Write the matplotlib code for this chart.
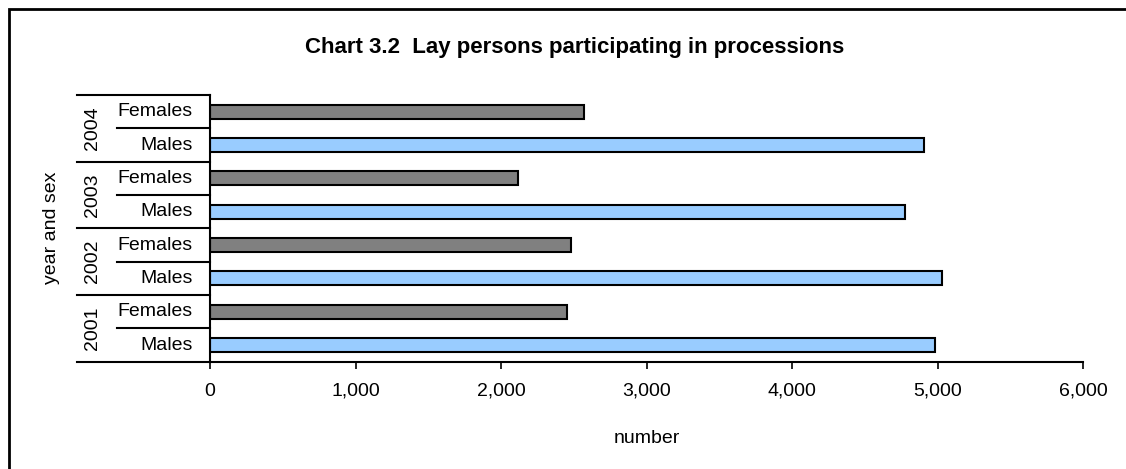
import numpy as np
import matplotlib.pyplot as plt
from matplotlib.patches import Rectangle
import matplotlib.transforms as mtransforms

plt.rcParams['font.family'] = ['Liberation Sans', 'DejaVu Sans']

# data (bottom to top)
years = ['2001', '2002', '2003', '2004']
sexes = ['Males', 'Females']
males = [4985, 5030, 4780, 4910]
females = [2455, 2480, 2120, 2570]

labels = []
values = []
colors = []
for i in range(len(years)):
    labels += sexes
    values += [males[i], females[i]]
    colors += ['#99CCFF', '#808080']

fig = plt.figure(figsize=(11.26, 4.69), dpi=100)
ax = fig.add_axes([210 / 1126, 1 - 361.7 / 469, 873 / 1126, 266.7 / 469])

ypos = np.arange(len(values))
ax.barh(ypos, values, height=0.42, color=colors, edgecolor='black', linewidth=1.5)

ax.set_xlim(0, 6000)
ax.set_ylim(-0.5, len(values) - 0.5)
ax.set_xticks(np.arange(0, 6001, 1000))
ax.set_xticklabels([f'{v:,}' for v in range(0, 6001, 1000)], fontsize=14)
ax.set_yticks([])
ax.tick_params(axis='x', direction='out', length=5, width=1.2, pad=10)
for s in ['top', 'right']:
    ax.spines[s].set_visible(False)
for s in ['left', 'bottom']:
    ax.spines[s].set_linewidth(1.5)

# grouped category axis drawn by hand
trans = mtransforms.blended_transform_factory(ax.transAxes, ax.transData)
for k in range(len(years) + 1):
    y = 2 * k - 0.5
    ax.plot([-0.1523, 0], [y, y], color='black', lw=1.5, transform=trans, clip_on=False)
for k in range(len(years)):
    y = 2 * k + 0.5
    ax.plot([-0.1065, 0], [y, y], color='black', lw=1.5, transform=trans, clip_on=False)
    ax.text(-0.135, 2 * k + 0.5, years[k], rotation=90, ha='center', va='center',
            fontsize=14, transform=trans)
for j, lab in enumerate(labels):
    ax.text(-0.0195, j, lab, ha='right', va='center', fontsize=14, transform=trans)

fig.text(52 / 1126, 1 - 228 / 469, 'year and sex', rotation=90, ha='center', va='center', fontsize=14)
fig.text(646.5 / 1126, 1 - 438 / 469, 'number', ha='center', va='center', fontsize=14)
fig.text(575 / 1126, 1 - 47 / 469, 'Chart 3.2  Lay persons participating in processions',
         ha='center', va='center', fontsize=16, fontweight='bold')

# outer frame (right and bottom edges fall outside the picture)
fig.patches.append(Rectangle((9 / 1126, -0.05), 1.2, 1 - 9 / 469 + 0.05,
                             transform=fig.transFigure, fill=False, edgecolor='black', lw=2))

fig.savefig('out.png', dpi=100)
